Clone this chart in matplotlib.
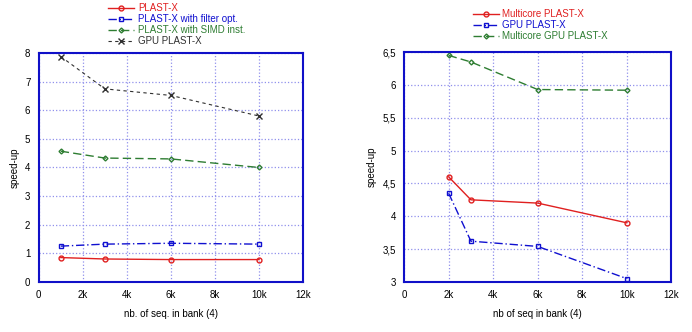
import matplotlib
matplotlib.use("Agg")
import matplotlib.pyplot as plt
from matplotlib.ticker import FuncFormatter

plt.rcParams['font.family'] = ['Liberation Sans', 'DejaVu Sans']
plt.rcParams['font.size'] = 7

# ============================================================
# DATA
# ============================================================
x_left = [1000, 3000, 6000, 10000]
plastx = [0.85, 0.80, 0.78, 0.78]
plastx_filter = [1.25, 1.32, 1.35, 1.32]
plastx_simd = [4.57, 4.33, 4.30, 4.00]
gpu_plastx = [7.88, 6.75, 6.52, 5.80]

x_right = [2000, 3000, 6000, 10000]
multicore = [4.60, 4.25, 4.20, 3.90]
gpu_right = [4.35, 3.62, 3.54, 3.05]
multicore_gpu = [6.45, 6.35, 5.93, 5.92]

xticks = [0, 2000, 4000, 6000, 8000, 10000, 12000]
xticklabels = ['0', '2k', '4k', '6k', '8k', '10k', '12k']

FRAME = '#1010c8'
GRID = '#9090ec'

fig = plt.figure(figsize=(6.92, 3.32), dpi=100)
ax1 = fig.add_axes([0.056, 0.151, 0.382, 0.689])
ax2 = fig.add_axes([0.584, 0.151, 0.386, 0.692])

# ============================================================
# LEFT PANEL
# ============================================================
ax1.plot(x_left, plastx, color='#e02020', lw=1.0, marker='o', ms=3.5, mfc='none', label='PLAST-X')
ax1.plot(x_left, plastx_filter, color='#1010d0', lw=1.0, ls=(0, (6, 2, 1, 2)), marker='s', ms=3.5, mfc='none',
         label='PLAST-X with filter opt.')
ax1.plot(x_left, plastx_simd, color='#2e7d32', lw=1.0, ls=(0, (6, 3)), marker='D', ms=2.5, mfc='none',
         label='PLAST-X with SIMD inst.')
ax1.plot(x_left, gpu_plastx, color='#303030', lw=0.8, ls=(0, (3, 3)), marker='x', ms=4,
         label='GPU PLAST-X')
ax1.set_xlim(0, 12000)
ax1.set_ylim(0, 8)
ax1.set_yticks(range(0, 9))
ax1.set_xlabel('nb. of seq. in bank (4)', labelpad=6)
ax1.set_ylabel('speed-up')
leg1 = ax1.legend(loc='lower left', bbox_to_anchor=(0.237, 1.0), frameon=False, fontsize=7,
                  handlelength=2.7, handletextpad=0.35, labelspacing=0.1, borderaxespad=0.3)
for t, c in zip(leg1.get_texts(), ['#e02020', '#1010d0', '#2e7d32', '#303030']):
    t.set_color(c)

# ============================================================
# RIGHT PANEL
# ============================================================
ax2.plot(x_right, multicore, color='#e02020', lw=1.0, marker='o', ms=3.5, mfc='none', label='Multicore PLAST-X')
ax2.plot(x_right, gpu_right, color='#1010d0', lw=1.0, ls=(0, (6, 2, 1, 2)), marker='s', ms=3.5, mfc='none',
         label='GPU PLAST-X')
ax2.plot(x_right, multicore_gpu, color='#2e7d32', lw=1.0, ls=(0, (6, 3)), marker='D', ms=2.5, mfc='none',
         label='Multicore GPU PLAST-X')
ax2.set_xlim(0, 12000)
ax2.set_ylim(3, 6.5)
ax2.set_yticks([3, 3.5, 4, 4.5, 5, 5.5, 6, 6.5])
ax2.yaxis.set_major_formatter(FuncFormatter(lambda v, p: ('%g' % v).replace('.', ',')))
ax2.set_xlabel('nb of seq in bank (4)', labelpad=6)
ax2.set_ylabel('speed-up')
leg2 = ax2.legend(loc='lower left', bbox_to_anchor=(0.216, 1.0), frameon=False, fontsize=7,
                  handlelength=2.7, handletextpad=0.35, labelspacing=0.1, borderaxespad=0.7)
for t, c in zip(leg2.get_texts(), ['#e02020', '#1010d0', '#2e7d32']):
    t.set_color(c)

# ============================================================
# FORMATTING
# ============================================================
for ax in [ax1, ax2]:
    ax.set_xticks(xticks)
    ax.set_xticklabels(xticklabels)
    ax.grid(True, color=GRID, ls=':', lw=0.9)
    ax.tick_params(length=0, pad=6)
    for s in ax.spines.values():
        s.set_color(FRAME)
        s.set_linewidth(1.5)

fig.savefig('out.png', dpi=100)
